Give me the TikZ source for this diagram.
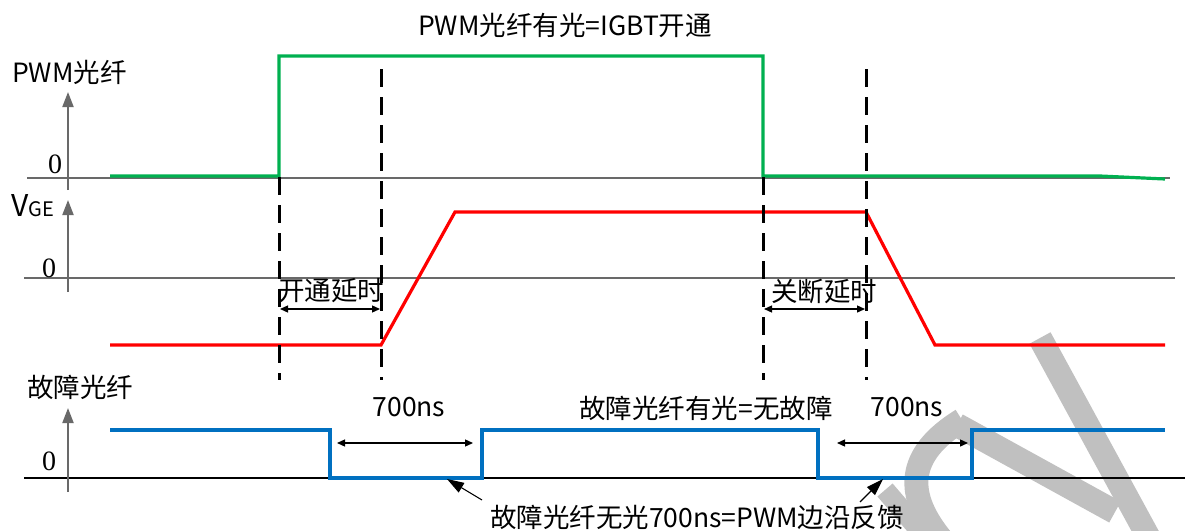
\documentclass[tikz,border=0pt]{standalone}
\usepackage{fontspec}
\setmainfont{Noto Sans CJK SC}
\newfontfamily\zerofont{Liberation Serif}
\usetikzlibrary{arrows.meta}

\definecolor{pwmgreen}{RGB}{0,176,80}
\definecolor{vgered}{RGB}{255,0,0}
\definecolor{faultblue}{RGB}{0,112,192}
\definecolor{axisgray}{RGB}{105,105,105}
\definecolor{markgray}{RGB}{192,192,192}

\tikzset{
  axis/.style={axisgray, line width=2pt, -{Triangle[width=11pt,length=15pt]}},
  zeroline/.style={axisgray, line width=1.3pt},
  signal/.style={line width=3.2pt, line join=miter},
  delayline/.style={black, line width=3pt, dash pattern=on 18pt off 10pt},
  span/.style={black, line width=1.3pt, {Triangle[width=7pt,length=8pt]}-{Triangle[width=7pt,length=8pt]}},
  callout/.style={black, line width=1.1pt, -{Triangle[width=11pt,length=17pt]}},
  lbl/.style={font=\fontsize{26.5}{26.5}\selectfont, inner sep=0pt},
  zero/.style={font=\zerofont\fontsize{28}{28}\selectfont, inner sep=0pt},
}

\begin{document}
\begin{tikzpicture}[x=1pt,y=-1pt]
            \useasboundingbox (0,0) rectangle (1185,530);

            \draw[markgray, line width=24pt] (1040,338) -- (1150,540);
            \draw[markgray, line width=24pt] (957,425) -- (1115,512);
            \draw[markgray, line width=24pt] (962,420) .. controls (905,455) and (905,495) .. (942,540);
            \draw[markgray, line width=20pt] (885,490) -- (928,540);

            \node[lbl] (title) at (565,25) {PWM光纤有光=IGBT开通};

            \node[lbl, anchor=west] (pwmlbl) at (12,72) {PWM光纤};
            \draw[zeroline] (27,178) -- (1170,178);
            \draw[axis] (68,190) -- (68,92);
            \node[zero] (zeroA) at (55,164) {0};

            \node[anchor=base west, inner sep=0pt] (vgelbl) at (11,216) {\fontsize{30}{30}\selectfont V\fontsize{20}{20}\selectfont GE};
            \draw[zeroline] (24,278) -- (1175,278);
            \draw[axis] (68,292) -- (68,200);
            \node[zero] (zeroB) at (49,268) {0};

            \node[lbl, anchor=west] (faultlbl) at (27,387) {故障光纤};
            \draw[black, line width=1.3pt] (24,478) -- (1185,478);
            \draw[axis] (68,492) -- (68,408);
            \node[zero] (zeroC) at (49,461) {0};

            \draw[pwmgreen, signal] (110,176) -- (279,176) -- (279,56) -- (763,56) -- (763,176) -- (1100,176) -- (1165,179);

            \draw[vgered, signal] (110,345) -- (381,345) -- (455,212) -- (866,212) -- (935,345) -- (1165,345);

            \draw[faultblue, signal] (110,430) -- (330,430) -- (330,478) -- (482,478) -- (482,430) -- (818,430) -- (818,478) -- (972,478) -- (972,430) -- (1165,430);

            \draw[delayline] (279,177) -- (279,380);
            \draw[delayline] (381,69) -- (381,380);
            \draw[delayline] (763,177) -- (763,380);
            \draw[delayline] (866,69) -- (866,380);

            \coordinate (onA) at (280,309);
            \coordinate (onB) at (380,309);
            \draw[span] (onA) -- (onB);
            \node[lbl] (ondelay) at (331,291) {开通延时};

            \coordinate (offA) at (764,309);
            \coordinate (offB) at (865,309);
            \draw[span] (offA) -- (offB);
            \node[lbl] (offdelay) at (824,291) {关断延时};

            \coordinate (lowA) at (337,443);
            \coordinate (lowB) at (473,443);
            \draw[span] (lowA) -- (lowB);
            \node[lbl] (nsA) at (409,407) {700ns};

            \coordinate (lowC) at (837,443);
            \coordinate (lowD) at (968,443);
            \draw[span] (lowC) -- (lowD);
            \node[lbl] (nsB) at (907,407) {700ns};

            \node[lbl] (nofault) at (706,408) {故障光纤有光=无故障};

            \node[lbl] (edgefb) at (697,517) {故障光纤无光700ns=PWM边沿反馈};
            \coordinate (tipA) at (447,479);
            \coordinate (tipB) at (883,479);
            \draw[callout] (482,500) -- (tipA);
            \draw[callout] (860,502) -- (tipB);
        \end{tikzpicture}
\end{document}
